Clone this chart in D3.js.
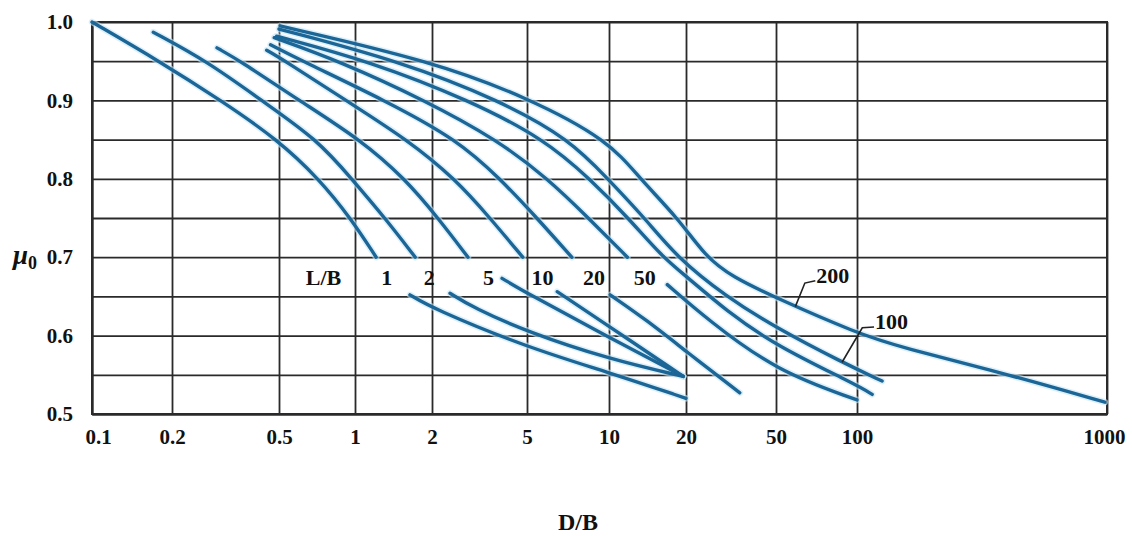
<!DOCTYPE html>
<html><head><meta charset="utf-8">
<script src="https://cdn.jsdelivr.net/npm/d3@7"></script>
<style>
body{margin:0;background:#fff}
svg{display:block}
text{font-family:"Liberation Serif","Times New Roman",serif;font-weight:bold;fill:#111}
</style>
</head><body>
<svg id="c" width="1132" height="536"></svg>
<script>
// ---------- data ----------
const xTicks = [0.1, 0.2, 0.5, 1, 2, 5, 10, 20, 50, 100, 1000];
const xTickLabels = ["0.1", "0.2", "0.5", "1", "2", "5", "10", "20", "50", "100", "1000"];
const yGrid = [0.5, 0.55, 0.6, 0.65, 0.7, 0.75, 0.8, 0.85, 0.9, 0.95, 1.0];
const yTickLabels = ["0.5", "0.6", "0.7", "0.8", "0.9", "1.0"];
const lbValues = ["1", "2", "5", "10", "20", "50"];

// upper branches (end near mu0 = 0.7, where the L/B labels sit)
const up1  = [[0.1,1.0],[0.179,0.95],[0.304,0.9],[0.494,0.85],[0.72,0.8],[0.96,0.75],[1.21,0.7]];
const up2  = [[0.17,0.987],[0.27,0.95],[0.43,0.9],[0.71,0.85],[0.97,0.8],[1.31,0.75],[1.72,0.7]];
const up5  = [[0.294,0.967],[0.36,0.95],[0.6,0.9],[1.05,0.85],[1.57,0.8],[2.12,0.75],[2.83,0.7]];
const up10 = [[0.45,0.964],[0.53,0.95],[0.92,0.9],[1.6,0.85],[2.5,0.8],[3.5,0.75],[4.8,0.7]];
const up20 = [[0.465,0.971],[0.62,0.95],[1.31,0.9],[2.55,0.85],[3.86,0.8],[5.44,0.75],[7.3,0.7]];
const up50 = [[0.48,0.98],[0.87,0.95],[1.88,0.9],[3.74,0.85],[5.97,0.8],[8.4,0.75],[11.8,0.7]];
// lower branches (start below the labels)
const lo1  = [[1.64,0.652],[2,0.635],[5,0.585],[10,0.553],[20,0.52]];
const lo2  = [[2.38,0.654],[3,0.635],[5,0.605],[10,0.57],[19.5,0.548]];
const lo5  = [[3.93,0.673],[5,0.654],[10,0.598],[19.5,0.548]];
const lo10 = [[6.45,0.656],[10,0.612],[19.5,0.548]];
const lo20 = [[10.1,0.652],[14,0.62],[20,0.58],[34.6,0.527]];
const lo50 = [[16.9,0.665],[25,0.62],[50,0.555],[100,0.518]];
// continuous curves
const curveMid = [[0.49,0.982],[1.14,0.95],[2.88,0.9],[5.82,0.85],[8.5,0.8],[11.9,0.75],[16.2,0.7],[20,0.676],[30,0.632],[50,0.587],[100,0.537],[115,0.525]];
const curve100 = [[0.5,0.991],[1.5,0.95],[3.85,0.9],[7.19,0.85],[9.9,0.8],[13.8,0.75],[18.4,0.7],[30,0.65],[50,0.61],[88,0.566],[126,0.542]];
const curve200 = [[0.505,0.995],[2,0.95],[5,0.904],[10,0.849],[13.2,0.8],[18.6,0.75],[24.5,0.7],[32,0.675],[50,0.648],[100,0.603],[150,0.585],[409,0.55],[980,0.515]];

const allCurves = [up1, up2, up5, up10, up20, up50, lo1, lo2, lo5, lo10, lo20, lo50, curveMid, curve100, curve200];

// ---------- layout ----------
const svg = d3.select("#c");
const pL = 92, pR = 1107, pT = 22, pB = 414;
const FONT = '"Liberation Serif","Times New Roman",serif';
const x = d3.scaleLog().domain(xTicks)
  .range([92, 172, 279, 355, 432, 527, 609, 686, 776, 857, 1107]);
const y = d3.scaleLinear().domain([0.5, 1.0]).range([pB, pT]);

svg.append("rect").attr("width", 1132).attr("height", 536).attr("fill", "#fff");

// horizontal grid + y labels
const yAxis = d3.axisLeft(y).tickValues(yGrid).tickSize(-(pR - pL)).tickSizeOuter(0).tickPadding(19)
  .tickFormat(v => { const s = d3.format(".1f")(v); return Math.abs(v * 10 - Math.round(v * 10)) < 1e-6 && yTickLabels.includes(s) ? s : ""; });
const gy = svg.append("g").attr("transform", `translate(${pL},0)`).call(yAxis);
gy.select(".domain").attr("stroke", "#2a2a2a").attr("stroke-width", 2);
gy.selectAll(".tick line").attr("stroke", "#2a2a2a").attr("stroke-width", 1.8);
gy.selectAll(".tick text").attr("font-size", 21).attr("fill", "#111")
  .attr("font-family", FONT).attr("font-weight", "bold");

// vertical grid + x labels
const xAxis = d3.axisBottom(x).tickValues(xTicks).tickSize(-(pB - pT)).tickSizeOuter(0).tickPadding(15)
  .tickFormat((d, i) => xTickLabels[i]);
const gx = svg.append("g").attr("transform", `translate(0,${pB})`).call(xAxis);
gx.select(".domain").attr("stroke", "#2a2a2a").attr("stroke-width", 2);
gx.selectAll(".tick line").attr("stroke", "#2a2a2a").attr("stroke-width", 1.8);
gx.selectAll(".tick text").attr("font-size", 21).attr("fill", "#111")
  .attr("font-family", FONT).attr("font-weight", "bold")
  .attr("dx", (d, i) => i === 0 ? 6 : (i === xTicks.length - 1 ? -3 : 0));

// frame
svg.append("rect").attr("x", pL).attr("y", pT).attr("width", pR - pL).attr("height", pB - pT)
  .attr("fill", "none").attr("stroke", "#2a2a2a").attr("stroke-width", 2);

// curves
const line = d3.line().x(d => x(d[0])).y(d => y(d[1])).curve(d3.curveBasis);
const gc = svg.append("g");
gc.selectAll("path.halo").data(allCurves).join("path").attr("class", "halo")
  .attr("d", line).attr("fill", "none").attr("stroke", "#c6e6f6").attr("stroke-width", 6.5)
  .attr("stroke-linecap", "round").attr("opacity", 0.6);
gc.selectAll("path.crv").data(allCurves).join("path").attr("class", "crv")
  .attr("d", line).attr("fill", "none").attr("stroke", "#1b6696").attr("stroke-width", 3.4)
  .attr("stroke-linecap", "round");

// L/B labels
const labY = 0.675;
const labX = [1.33, 1.95, 3.45, 5.7, 8.8, 13.8];
svg.append("text").attr("x", x(0.75)).attr("y", y(labY)).attr("dy", "0.35em")
  .attr("text-anchor", "middle").attr("font-size", 22).text("L/B");
lbValues.forEach((v, i) => {
  svg.append("text").attr("x", x(labX[i])).attr("y", y(labY)).attr("dy", "0.35em")
    .attr("text-anchor", "middle").attr("font-size", 22).text(v);
});

// leader labels
const leader = (pts, label) => {
  const p = pts.map(d => [x(d[0]), y(d[1])]);
  svg.append("path").attr("d", d3.line()(p)).attr("fill", "none").attr("stroke", "#222").attr("stroke-width", 1.6);
  const last = p[p.length - 1];
  svg.append("text").attr("x", last[0] + 1).attr("y", last[1] + 2)
    .attr("font-size", 22).text(label);
};
leader([[59, 0.637], [64, 0.667], [70, 0.67]], "200");
leader([[88, 0.566], [105, 0.61], [117, 0.611]], "100");

// axis titles
svg.append("text").attr("x", 578).attr("y", 530)
  .attr("text-anchor", "middle").attr("font-size", 24).text("D/B");
const mu = svg.append("text").attr("x", 13).attr("y", 264).attr("font-size", 27);
mu.append("tspan").attr("font-style", "italic").text("μ");
mu.append("tspan").attr("font-size", 18).attr("dy", 5).text("0");
</script>
</body></html>
